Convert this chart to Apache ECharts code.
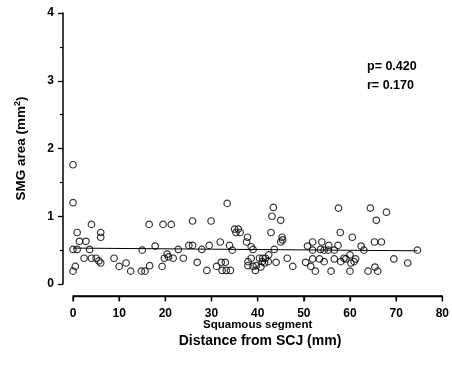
<!DOCTYPE html>
<html>
<head>
<meta charset="utf-8">
<script src="https://cdn.jsdelivr.net/npm/echarts@6/dist/echarts.min.js"></script>
<style>html,body{margin:0;padding:0;background:#fff}#c{width:452px;height:371px}</style>
</head>
<body>
<div id="c"></div>
<script>
// Distance from SCJ (mm)
const distX = [
  0,0,0,0.9,0.9,1.4,2.8,4.0,3.6,2.4,4.0,5.0,5.6,6.0,6.0,6.0,0.5,0,
  8.9,10.0,11.5,12.5,15.0,14.8,15.6,16.6,16.5,17.8,19.5,21.3,19.3,19.8,20.4,20.7,21.7,22.8,23.9,25.1,25.9,
  25.9,29.9,33.4,27.9,29.5,31.9,33.9,34.5,26.9,29.0,31.1,32.1,33.0,32.3,33.2,34.1,35.0,35.8,35.3,36.2,37.8,37.6,
  38.6,39.0,38.6,37.9,39.0,37.9,39.7,39.5,40.7,40.4,41.1,41.7,41.0,41.5,42.4,44.0,43.6,43.4,43.1,45.0,42.9,45.3,45.4,45.0,46.4,47.6,42.3,
  50.4,51.5,50.8,51.9,53.9,51.9,51.9,52.5,53.4,54.4,55.3,56.6,55.4,57.4,54.4,55.9,56.6,58.0,59.1,60.0,60.0,60.2,60.9,61.2,
  57.5,57.9,60.5,62.4,63.0,64.4,63.9,65.4,66.0,65.3,66.8,65.7,67.9,69.5,72.5,74.6,53.6,58.7
];
// SMG area (mm^2)
const smgArea = [
  1.76,1.20,0.51,0.51,0.76,0.63,0.63,0.88,0.51,0.38,0.38,0.38,0.34,0.31,0.76,0.69,0.26,0.19,
  0.38,0.26,0.31,0.19,0.50,0.19,0.19,0.27,0.88,0.56,0.88,0.88,0.26,0.38,0.44,0.40,0.38,0.51,0.38,0.57,0.57,
  0.93,0.93,1.19,0.51,0.57,0.62,0.57,0.50,0.32,0.20,0.26,0.32,0.32,0.20,0.20,0.20,0.81,0.81,0.76,0.76,0.69,0.62,
  0.55,0.51,0.38,0.33,0.26,0.27,0.27,0.20,0.25,0.38,0.38,0.38,0.33,0.31,0.43,0.32,0.51,1.13,1.00,0.94,0.76,0.69,0.65,0.62,0.38,0.26,0.33,
  0.32,0.26,0.56,0.62,0.62,0.50,0.37,0.19,0.37,0.50,0.50,0.50,0.57,0.57,0.33,0.19,0.37,0.33,0.37,0.43,0.19,0.31,0.33,0.37,
  1.12,0.76,0.69,0.56,0.50,1.12,0.19,0.25,0.19,0.62,0.62,0.94,1.06,0.37,0.31,0.50,0.51,0.38
];
// Regression line endpoints
const fitX = [0, 74.6];
const fitY = [0.53, 0.49];
const xTicks = [0,10,20,30,40,50,60,70,80];
const yTicks = [0,1,2,3,4];
const statsText = ['p= 0.420', 'r= 0.170'];

const pts = distX.map((x,i)=>[x, smgArea[i]]);
const fit = fitX.map((x,i)=>[x, fitY[i]]);
const FONT = 'Liberation Sans';
const X_OFFSET = 12;

const chart = echarts.init(document.getElementById('c'));
chart.setOption({
  animation:false,
  grid:{left:73, right:6, top:13, bottom:87},
  xAxis:{
    type:'value', min:xTicks[0], max:xTicks[xTicks.length-1], interval:10,
    offset:X_OFFSET,
    splitLine:{show:false},
    axisLine:{show:true, onZero:false, lineStyle:{color:'#000', width:1.5}},
    axisTick:{show:true, length:5, lineStyle:{color:'#000', width:1.3}},
    axisLabel:{color:'#000', fontFamily:FONT, fontWeight:'bold', fontSize:12, margin:12},
    name:'Squamous segment', nameLocation:'middle', nameGap:23, nameMoveOverlap:false,
    nameTextStyle:{color:'#000', fontFamily:FONT, fontWeight:'bold', fontSize:11.5}
  },
  yAxis:{
    type:'value', min:yTicks[0], max:yTicks[yTicks.length-1], interval:1,
    offset:10,
    splitLine:{show:false},
    axisLine:{show:true, onZero:false, lineStyle:{color:'#000', width:1.5}},
    axisTick:{show:true, length:5, lineStyle:{color:'#000', width:1.3}},
    minorTick:{show:true, splitNumber:2, length:3, lineStyle:{color:'#000', width:1.2}},
    axisLabel:{color:'#000', fontFamily:FONT, fontWeight:'bold', fontSize:12, margin:9},
    name:'{a|SMG area (mm}{s|2}{a|)}', nameLocation:'middle', nameGap:34, nameRotate:90, nameMoveOverlap:false,
    nameTextStyle:{rich:{
      a:{color:'#000', fontFamily:FONT, fontWeight:'bold', fontSize:13.5},
      s:{color:'#000', fontFamily:FONT, fontWeight:'bold', fontSize:9, verticalAlign:'top', padding:[0,0,7,0]}
    }}
  },
  series:[
    {type:'line', data:fit, symbol:'none', lineStyle:{color:'#000', width:1}, z:1},
    {type:'scatter', data:pts, symbol:'circle', symbolSize:6.5, clip:false,
     itemStyle:{color:'rgba(255,255,255,0)', borderColor:'#000', borderWidth:1.2}, z:2}
  ],
  graphic:[
    {type:'text', x:367, y:67, style:{text:statsText[0], fill:'#000', font:'bold 12.5px "Liberation Sans"', textVerticalAlign:'middle'}},
    {type:'text', x:367, y:86, style:{text:statsText[1], fill:'#000', font:'bold 12.5px "Liberation Sans"', textVerticalAlign:'middle'}},
    {type:'text', x:260, y:341, style:{text:'Distance from SCJ (mm)', fill:'#000', font:'bold 14px "Liberation Sans"', textAlign:'center', textVerticalAlign:'middle'}}
  ]
});

// Reinforce the offset x-axis baseline and ticks, positioned from the axis scale itself
const p0 = chart.convertToPixel({gridIndex:0}, [xTicks[0], yTicks[0]]);
const p1 = chart.convertToPixel({gridIndex:0}, [xTicks[xTicks.length-1], yTicks[0]]);
const baseY = Math.round(p0[1] + X_OFFSET) + 0.5;
const axisEls = [{type:'line', shape:{x1:p0[0], y1:baseY, x2:p1[0], y2:baseY}, style:{stroke:'#000', lineWidth:1.5}, z:10}];
xTicks.forEach(t => {
  const px = chart.convertToPixel({gridIndex:0}, [t, yTicks[0]])[0];
  axisEls.push({type:'line', shape:{x1:px, y1:baseY, x2:px, y2:baseY+5}, style:{stroke:'#000', lineWidth:1.3}, z:10});
});
chart.setOption({graphic:[
  {type:'text', x:367, y:67, style:{text:statsText[0], fill:'#000', font:'bold 12.5px "Liberation Sans"', textVerticalAlign:'middle'}},
  {type:'text', x:367, y:86, style:{text:statsText[1], fill:'#000', font:'bold 12.5px "Liberation Sans"', textVerticalAlign:'middle'}},
  {type:'text', x:260, y:341, style:{text:'Distance from SCJ (mm)', fill:'#000', font:'bold 14px "Liberation Sans"', textAlign:'center', textVerticalAlign:'middle'}},
  {type:'group', children:axisEls}
]}, {replaceMerge:['graphic']});
</script>
</body>
</html>
